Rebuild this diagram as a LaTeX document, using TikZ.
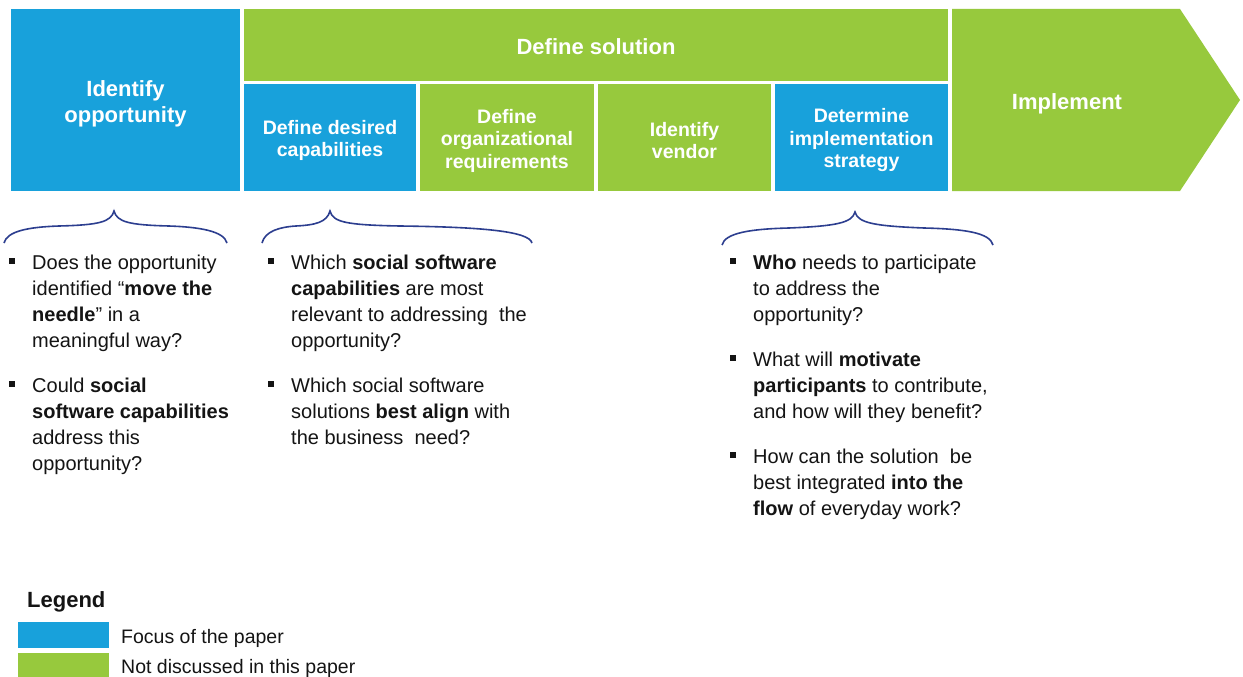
\documentclass[tikz,border=0pt]{standalone}
\usepackage{fontspec}
\setmainfont{Liberation Sans}
\definecolor{cblue}{RGB}{24,161,219}
\definecolor{cgreen}{RGB}{151,201,61}
\definecolor{cbrace}{RGB}{44,62,143}
\definecolor{ctext}{RGB}{20,20,20}
\newcommand\bsq{\makebox[23pt][l]{\rule[5pt]{6pt}{6pt}}}
\begin{document}
\begin{tikzpicture}[x=1pt,y=-1pt,
  box/.style={inner sep=0pt, outer sep=0pt},
  boxtext/.style={inner sep=0pt, align=center, text=white},
  bigtitle/.style={font=\fontsize{22}{26}\selectfont\bfseries},
  subtitle/.style={font=\fontsize{19.5}{22.5}\selectfont\bfseries},
  bluebox/.style={box, fill=cblue},
  greenbox/.style={box, fill=cgreen},
  subbox/.style={minimum height=107pt},
  brace/.style={draw=cbrace, line width=1.6pt},
  body/.style={anchor=base west, inner sep=0pt, text=ctext, font=\fontsize{20}{26}\selectfont},
  legbox/.style={inner sep=0pt, minimum width=91pt, minimum height=26pt, anchor=north west},
  legtext/.style={anchor=base west, inner sep=0pt, text=ctext, font=\fontsize{19.5}{24}\selectfont}
]
\fill[white] (0,0) rectangle (1243,677);
\useasboundingbox (0,0) rectangle (1243,677);

% top boxes
\node[bluebox, minimum width=229pt, minimum height=182pt] (idop) at (125.5,100) {};
\node[boxtext, bigtitle] (idopt) at ([yshift=-3.5pt]idop.center) {Identify\\opportunity};
\node[greenbox, minimum width=704pt, minimum height=72pt] (defsol) at (596,45) {};
\node[boxtext, bigtitle] (defsolt) at ([yshift=-2pt]defsol.center) {Define solution};
\node[bluebox, subbox, minimum width=172pt] (cap) at (330,137.5) {};
\node[boxtext, subtitle] (capt) at ([yshift=-3pt]cap.center) {Define desired\\capabilities};
\node[greenbox, subbox, minimum width=174pt] (org) at (507,137.5) {};
\node[boxtext, subtitle] (orgt) at ([yshift=-3pt]org.center) {Define\\organizational\\requirements};
\node[greenbox, subbox, minimum width=173pt] (vend) at (684.5,137.5) {};
\node[boxtext, subtitle] (vendt) at ([yshift=-3pt]vend.center) {Identify\\vendor};
\node[bluebox, subbox, minimum width=173pt] (strat) at (861.5,137.5) {};
\node[boxtext, subtitle] (stratt) at ([yshift=-3pt]strat.center) {Determine\\implementation\\strategy};
\fill[cgreen] (952,9) -- (1180,9) -- (1240,100) -- (1180,191) -- (952,191) -- cycle;
\node[boxtext, bigtitle] (impl) at (1067,104) {Implement};

% braces
\draw[brace] (4,243) .. controls (7,231) and (29,227) .. (59,226) .. controls (99,225) and (111,222) .. (114,211)
             .. controls (117,222) and (129,225) .. (169,226) .. controls (199,227) and (224,231) .. (227,243);
\draw[brace] (262,243) .. controls (265,231) and (280,227) .. (296,226) .. controls (316,225) and (327,222) .. (330,211)
             .. controls (333,222) and (345,225) .. (400,226) .. controls (480,227) and (529,231) .. (532,243);
\draw[brace] (722,245) .. controls (725,233) and (750,229) .. (789,228) .. controls (836,226) and (852,223) .. (855,212)
             .. controls (858,223) and (874,226) .. (924,228) .. controls (966,229) and (990,233) .. (993,245);

% bullet text
\node[body] (col1) at (9,269) {\begin{tabular}[t]{@{}l@{}l@{}}
\bsq & Does the opportunity\\
 & identified “\textbf{move the}\\
 & \textbf{needle}” in a\\
 & meaningful way?\\[19pt]
\bsq & Could \textbf{social}\\
 & \textbf{software capabilities}\\
 & address this\\
 & opportunity?
\end{tabular}};
\node[body] (col2) at (268,269) {\begin{tabular}[t]{@{}l@{}l@{}}
\bsq & Which \textbf{social software}\\
 & \textbf{capabilities} are most\\
 & relevant to addressing\ \ the\\
 & opportunity?\\[19pt]
\bsq & Which social software\\
 & solutions \textbf{best align} with\\
 & the business\ \ need?
\end{tabular}};
\node[body] (col3) at (730,269) {\begin{tabular}[t]{@{}l@{}l@{}}
\bsq & \textbf{Who} needs to participate\\
 & to address the\\
 & opportunity?\\[19pt]
\bsq & What will \textbf{motivate}\\
 & \textbf{participants} to contribute,\\
 & and how will they benefit?\\[19pt]
\bsq & How can the solution\ \ be\\
 & best integrated \textbf{into the}\\
 & \textbf{flow} of everyday work?
\end{tabular}};

% legend
\node[anchor=base west, inner sep=0pt, text=ctext, font=\fontsize{22}{26}\selectfont\bfseries] (leg) at (27,607) {Legend};
\node[legbox, fill=cblue] (legb) at (18,622) {};
\node[legbox, fill=cgreen] (legg) at (18,653) {};
\node[legtext] (legbt) at (121,643) {Focus of the paper};
\node[legtext] (leggt) at (121,673) {Not discussed in this paper};
\end{tikzpicture}
\end{document}
